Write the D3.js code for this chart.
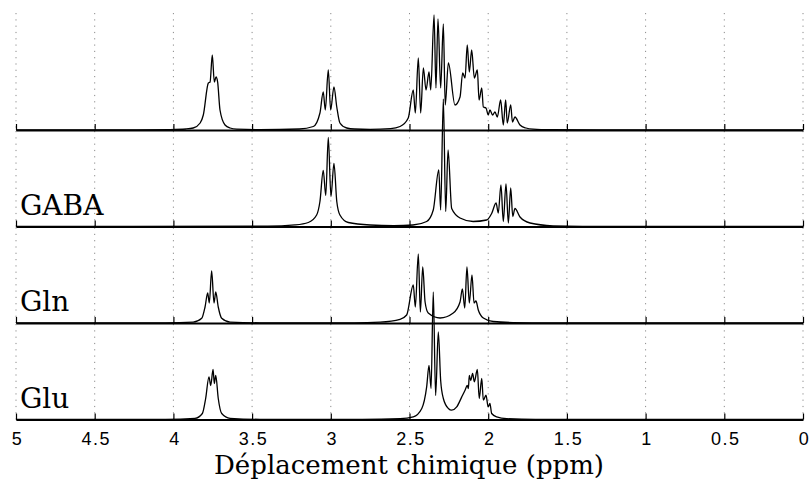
<!DOCTYPE html>
<html>
<head>
  <meta charset="utf-8">
  <title>Spectres RMN</title>
  <script src="https://d3js.org/d3.v7.min.js"></script>
  <style>
    body { margin: 0; background: #fff; }
    .grid line { stroke: #8a8a8a; stroke-width: 1; stroke-dasharray: 1.2,5.1; }
    .spec { fill: none; stroke: #000; stroke-width: 1.3; }
    .axis .domain { stroke: #000; stroke-width: 2; }
    .axis .tick line { stroke: #000; stroke-width: 1.2; }
    .axis text { font-family: "Liberation Sans", Arial, sans-serif; font-size: 18px; letter-spacing: 1.5px; fill: #000; }
    .name { font-family: "DejaVu Serif", serif; font-size: 28px; }
    .xlabel { font-family: "DejaVu Serif", serif; font-size: 26px; }
  </style>
</head>
<body>
  <svg id="chart" width="812" height="485"></svg>

  <script>
    // ppm ticks and the panel names (top panel is the sum, no name)
    var ticks = [5, 4.5, 4, 3.5, 3, 2.5, 2, 1.5, 1, 0.5, 0];
    var names = ["", "GABA", "Gln", "Glu"];

    // traced spectra: [ppm, intensity (a.u.)]
    var mix = [
      [5, 0], [4.3, 0], [4.02, 0.4], [3.92, 1], [3.874, 2], [3.83, 7], [3.81, 15], [3.778, 47], [3.767, 48],
      [3.753, 75], [3.74, 48], [3.729, 53], [3.719, 48], [3.704, 20], [3.672, 5], [3.64, 2], [3.598, 0.9],
      [3.45, 0.4], [3.2, 1], [3.111, 3.5], [3.069, 17], [3.048, 38], [3.035, 20], [3.016, 60],
      [3.001, 20], [2.98, 43], [2.962, 23], [2.942, 7], [2.899, 2], [2.85, 1], [2.75, 0.7],
      [2.62, 1.4], [2.56, 3.5], [2.508, 12], [2.476, 40], [2.463, 17], [2.444, 72], [2.429, 17],
      [2.412, 62], [2.395, 40], [2.376, 58], [2.365, 40], [2.344, 115], [2.332, 42], [2.319, 111],
      [2.302, 42], [2.285, 106], [2.273, 25], [2.253, 67], [2.211, 25], [2.179, 33], [2.162, 57],
      [2.147, 52], [2.133, 85], [2.12, 58], [2.105, 80], [2.088, 52], [2.069, 60], [2.058, 30],
      [2.041, 42], [2.031, 23], [2.014, 22], [2.0, 15], [1.989, 20], [1.972, 15], [1.957, 18],
      [1.942, 13], [1.921, 30], [1.904, 5], [1.889, 30], [1.879, 7], [1.857, 25], [1.846, 8],
      [1.83, 13], [1.798, 5], [1.76, 2], [1.715, 0.9], [1.6, 0.3], [1.3, 0], [0, 0]
    ];
    var gaba = [
      [5, 0], [3.4, 0.3], [3.227, 1.6], [3.143, 4], [3.09, 11.5], [3.069, 25], [3.048, 56],
      [3.032, 31], [3.016, 89], [2.999, 30], [2.98, 63], [2.962, 25], [2.942, 11.5], [2.889, 4],
      [2.75, 1.5], [2.6, 0.9], [2.478, 1.5], [2.391, 5], [2.349, 16.5], [2.314, 56.5], [2.302, 16.5],
      [2.285, 127.5], [2.27, 15], [2.255, 76.5], [2.232, 18], [2.179, 8.5], [2.096, 5], [2.01, 6.5],
      [1.978, 13], [1.95, 23.5], [1.936, 13.5], [1.919, 41.5], [1.904, 5], [1.887, 42.5], [1.872, 3.5],
      [1.857, 38.5], [1.844, 10], [1.83, 18], [1.798, 9.5], [1.734, 3.5], [1.588, 0.7], [1.4, 0.2], [0, 0]
    ];
    var gln = [
      [5, 0], [4.05, 0.2], [3.874, 0.9], [3.82, 4.7], [3.799, 16], [3.782, 30], [3.772, 20],
      [3.757, 52], [3.742, 20], [3.731, 31], [3.715, 16], [3.693, 4.7], [3.64, 0.9], [3.45, 0.2],
      [2.85, 0.2], [2.687, 0.9], [2.56, 3.7], [2.518, 8], [2.476, 38], [2.463, 16], [2.444, 69],
      [2.431, 11], [2.416, 56], [2.401, 21], [2.381, 10], [2.306, 5], [2.222, 10], [2.179, 21],
      [2.164, 34], [2.149, 15], [2.135, 56], [2.12, 20], [2.103, 48], [2.09, 20], [2.078, 22],
      [2.063, 13], [2.031, 5], [1.968, 1.5], [1.842, 0.4], [1.6, 0], [0, 0]
    ];
    var glu = [
      [5, 0], [4.05, 0.2], [3.863, 1.2], [3.816, 6], [3.795, 21], [3.774, 42.6], [3.763, 34],
      [3.748, 50], [3.74, 36], [3.731, 44], [3.715, 21], [3.693, 6], [3.64, 1.2], [3.45, 0.2],
      [2.8, 0.2], [2.56, 0.8], [2.476, 2.6], [2.422, 11], [2.391, 32.6], [2.376, 54], [2.363, 31],
      [2.349, 127.6], [2.334, 24], [2.317, 87.6], [2.302, 39], [2.285, 21], [2.253, 11], [2.232, 9.3],
      [2.2, 12.6], [2.168, 22.6], [2.147, 29.3], [2.133, 34], [2.126, 31], [2.12, 44], [2.111, 39],
      [2.099, 46], [2.088, 37.6], [2.069, 50], [2.057, 21], [2.041, 41], [2.031, 19.3], [2.014, 24.3],
      [2.0, 12.6], [1.989, 16], [1.978, 6], [1.946, 2.6], [1.882, 0.8], [1.7, 0], [0, 0]
    ];
    var spectra = [mix, gaba, gln, glu];

    var svg = d3.select("#chart");

    // layout of the four stacked panels
    var bases = [130, 226.5, 323, 419.5];
    var tops = [12, 130, 226.5, 323];

    var x = d3.scaleLinear().domain([5, 0]).range([16, 803]);

    // dotted grid
    bases.forEach(function(b, i) {
      svg.append("g").attr("class", "grid")
        .selectAll("line").data(ticks).join("line")
        .attr("x1", function(d) { return x(d); })
        .attr("x2", function(d) { return x(d); })
        .attr("y1", tops[i] + 1)
        .attr("y2", b);
    });

    // axes
    bases.forEach(function(b, i) {
      var ax = d3.axisBottom(x)
        .tickValues(ticks)
        .tickSize(-6)
        .tickSizeOuter(0)
        .tickPadding(13)
        .tickFormat(function(d) { return i == 3 ? String(d) : ""; });
      svg.append("g")
        .attr("class", "axis")
        .attr("transform", "translate(0," + b + ")")
        .call(ax);
    });
    svg.selectAll(".axis text").attr("dx", "1px");

    // spectra
    spectra.forEach(function(s, i) {
      var y = d3.scaleLinear().domain([0, 100]).range([bases[i], bases[i] - 100]);
      var line = d3.line()
        .x(function(d) { return x(d[0]); })
        .y(function(d) { return y(d[1]); })
        .curve(d3.curveMonotoneX);
      svg.append("path")
        .datum(s)
        .attr("class", "spec")
        .attr("d", line);

      if (names[i]) {
        svg.append("text")
          .attr("class", "name")
          .attr("x", 20)
          .attr("y", bases[i] - 12)
          .text(names[i]);
      }
    });

    // x label
    svg.append("text")
      .attr("class", "xlabel")
      .attr("x", 409)
      .attr("y", 474)
      .attr("text-anchor", "middle")
      .text("Déplacement chimique (ppm)");
  </script>
</body>
</html>
